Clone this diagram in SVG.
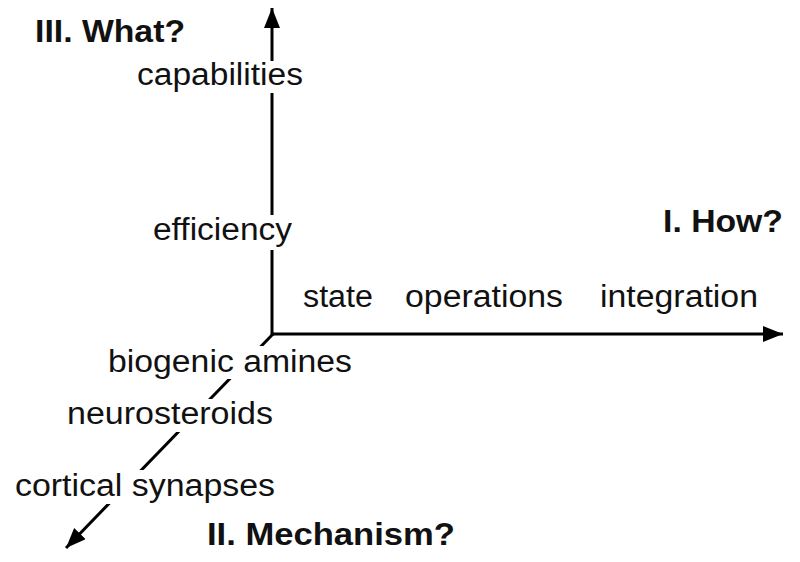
<svg xmlns="http://www.w3.org/2000/svg" width="800" height="562" viewBox="0 0 800 562">
<style>
.t{font-family:"Liberation Sans",Arial,sans-serif;font-size:31px;fill:#111}
.b{font-weight:bold}
.bg{fill:#fff}
.ax{stroke:#000;stroke-width:3;fill:none}
</style>
<defs>
<marker id="ah" markerUnits="userSpaceOnUse" markerWidth="22" markerHeight="18" refX="20" refY="8" orient="auto">
<path d="M0,0 L20,8 L0,16 z" fill="#000"/>
</marker>
</defs>
<rect width="800" height="562" fill="#fff"/>
<g id="connectors">
<line class="ax" x1="272" y1="336" x2="272" y2="8" marker-end="url(#ah)"/>
<line class="ax" x1="271" y1="334" x2="783" y2="334" marker-end="url(#ah)"/>
<line class="ax" x1="273" y1="334" x2="66" y2="548" marker-end="url(#ah)"/>
</g>
<g id="what"><text class="t b" x="35" y="42" textLength="150" lengthAdjust="spacingAndGlyphs">III. What?</text></g>
<g id="capabilities"><rect class="bg" x="134" y="61" width="174" height="32"/><text class="t" x="137" y="85" textLength="166" lengthAdjust="spacingAndGlyphs">capabilities</text></g>
<g id="efficiency"><rect class="bg" x="150" y="215" width="146" height="35"/><text class="t" x="153" y="240" textLength="139" lengthAdjust="spacingAndGlyphs">efficiency</text></g>
<g id="how"><text class="t b" x="663" y="232" textLength="120" lengthAdjust="spacingAndGlyphs">I. How?</text></g>
<g id="state"><text class="t" x="303" y="307" textLength="70" lengthAdjust="spacingAndGlyphs">state</text></g>
<g id="operations"><text class="t" x="405" y="307" textLength="158" lengthAdjust="spacingAndGlyphs">operations</text></g>
<g id="integration"><text class="t" x="600" y="307" textLength="158" lengthAdjust="spacingAndGlyphs">integration</text></g>
<g id="biogenic"><rect class="bg" x="104" y="346" width="252" height="33"/><text class="t" x="108" y="372" textLength="244" lengthAdjust="spacingAndGlyphs">biogenic amines</text></g>
<g id="neurosteroids"><rect class="bg" x="63" y="399" width="214" height="33"/><text class="t" x="67" y="424" textLength="206" lengthAdjust="spacingAndGlyphs">neurosteroids</text></g>
<g id="cortical"><rect class="bg" x="11" y="470" width="268" height="34"/><text class="t" x="15" y="496" textLength="260" lengthAdjust="spacingAndGlyphs">cortical synapses</text></g>
<g id="mechanism"><text class="t b" x="207" y="545" textLength="248" lengthAdjust="spacingAndGlyphs">II. Mechanism?</text></g>
</svg>
